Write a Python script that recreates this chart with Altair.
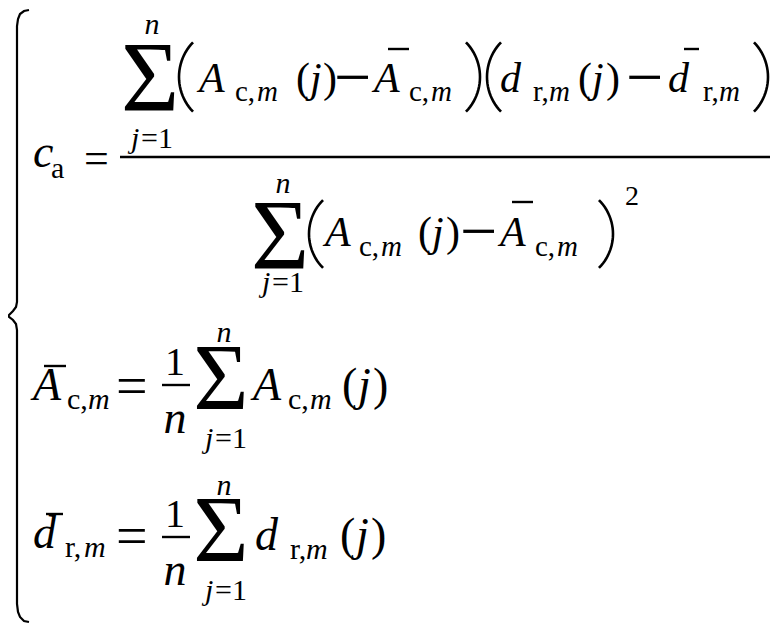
import altair as alt
import numpy as np
import pandas as pd

FONT = "Liberation Serif"

# ---- formula tokens (text), with their layout kept in separate lists ----
tok_text = [
    "c", "a", "=",
    "n", "Σ", "j", "=1", "A", "c,", "m", "(", "j", ")", "−", "A", "c,", "m",
    "d", "r,", "m", "(", "j", ")", "−", "d", "r,", "m",
    "n", "Σ", "j", "=1", "A", "c,", "m", "(", "j", ")", "−", "A", "c,", "m", "2",
    "A", "c,", "m", "=", "1", "n", "n", "Σ", "j", "=1", "A", "c,", "m", "(", "j", ")",
    "d", "r,", "m", "=", "1", "n", "n", "Σ", "j", "=1", "d", "r,", "m", "(", "j", ")",
]
tok_x = [
    33, 51, 84,
    152, 150, 131, 141, 199, 235, 257, 296, 310, 323, 334, 374, 409, 431,
    500, 533, 549, 578, 592, 606, 626, 668, 703, 719,
    283, 280, 262, 272, 325, 359, 381, 418, 432, 446, 460, 500, 535, 557, 625,
    33, 67, 88, 116, 175, 175, 224, 221, 205, 215, 253, 288, 310, 342, 358, 373,
    33, 65, 84, 116, 175, 175, 224, 221, 205, 215, 255, 290, 306, 340, 356, 371,
]
tok_y = [
    167, 178, 173,
    34, 110, 148, 148, 92, 101, 101, 92, 92, 92, 99, 92, 101, 101,
    92, 101, 101, 92, 92, 92, 99, 92, 101, 101,
    193, 268, 292, 292, 246, 256, 256, 246, 246, 246, 253, 246, 256, 256, 205,
    400, 409, 409, 405, 375, 433, 342, 410, 448, 448, 400, 409, 409, 400, 400, 400,
    548, 557, 557, 555, 527, 585, 495, 562, 600, 600, 550, 559, 559, 550, 550, 550,
]
tok_size = [
    46, 30, 44,
    30, 100, 30, 30, 42, 29, 29, 42, 42, 42, 66, 42, 29, 29,
    42, 29, 29, 42, 42, 42, 66, 42, 29, 29,
    30, 100, 30, 30, 42, 29, 29, 42, 42, 42, 66, 42, 29, 29, 28,
    46, 30, 30, 56, 40, 46, 30, 95, 30, 30, 46, 30, 30, 46, 46, 46,
    46, 30, 30, 56, 40, 46, 30, 95, 30, 30, 46, 30, 30, 46, 46, 46,
]
tok_italic = [
    1, 0, 0,
    1, 0, 1, 0, 1, 0, 1, 0, 1, 0, 0, 1, 0, 1,
    1, 0, 1, 0, 1, 0, 0, 1, 0, 1,
    1, 0, 1, 0, 1, 0, 1, 0, 1, 0, 0, 1, 0, 1, 0,
    1, 0, 1, 0, 0, 1, 1, 0, 1, 0, 1, 0, 1, 0, 1, 0,
    1, 0, 1, 0, 0, 1, 1, 0, 1, 0, 1, 0, 1, 0, 1, 0,
]
tok_center = [
    0, 0, 0,
    1, 1, 0, 0, 0, 0, 0, 0, 0, 0, 0, 0, 0, 0,
    0, 0, 0, 0, 0, 0, 0, 0, 0, 0,
    1, 1, 0, 0, 0, 0, 0, 0, 0, 0, 0, 0, 0, 0, 0,
    0, 0, 0, 0, 1, 1, 1, 1, 0, 0, 0, 0, 0, 0, 0, 0,
    0, 0, 0, 0, 1, 1, 1, 1, 0, 0, 0, 0, 0, 0, 0, 0,
]

# ---- horizontal bars: fraction lines and overbars ----
bar_x1 = [120, 162, 162, 388, 684, 512, 44, 46]
bar_x2 = [770, 190, 190, 409, 699, 533, 66, 63]
bar_y = [157, 385, 537, 49, 49, 202, 366, 514]

# ---- large parentheses: centre, radius, half-angle (deg), side (-1 = "(", +1 = ")") ----
par_cx = [229, 430, 537, 718, 357, 565]
par_cy = [77, 77, 77, 77, 234, 234]
par_r = [50, 50, 50, 50, 48, 48]
par_half = [44, 44, 44, 44, 45, 45]
par_side = [-1, 1, -1, 1, -1, 1]

# ---- left curly brace path ----
brace_x = [29, 24, 20, 18, 17, 17, 16, 13, 8, 13, 16, 17, 17, 18, 20, 24, 29]
brace_y = [10, 11, 14, 19, 26, 302, 307, 311, 316, 320, 324, 330, 604, 612, 617, 621, 622]

XS = alt.Scale(domain=[8, 776], nice=False, zero=False)
YS = alt.Scale(domain=[8, 624], nice=False, zero=False, reverse=True)

tokens = pd.DataFrame({
    "t": tok_text, "x": tok_x, "y": tok_y, "s": tok_size,
    "it": tok_italic, "ce": tok_center,
})

layers = []
for (s, it, ce), d in tokens.groupby(["s", "it", "ce"]):
    opts = dict(
        font=FONT,
        fontSize=int(s),
        align="center" if ce else "left",
        baseline="alphabetic",
    )
    if it:
        opts["fontStyle"] = "italic"
    layers.append(
        alt.Chart(d[["t", "x", "y"]]).mark_text(**opts).encode(
            x=alt.X("x:Q", scale=XS, axis=None),
            y=alt.Y("y:Q", scale=YS, axis=None),
            text="t:N",
        )
    )

bars = pd.DataFrame({"x": bar_x1, "x2": bar_x2, "y": bar_y})
layers.append(
    alt.Chart(bars).mark_rule(color="black", strokeWidth=2.4).encode(
        x=alt.X("x:Q", scale=XS, axis=None),
        x2="x2:Q",
        y=alt.Y("y:Q", scale=YS, axis=None),
    )
)

# big parentheses as arc-shaped strokes
rows = []
for k, (cx, cy, r, h, sd) in enumerate(zip(par_cx, par_cy, par_r, par_half, par_side)):
    ang = np.radians(np.linspace(-h, h, 25))
    for i, a in enumerate(ang):
        rows.append({"id": k, "o": i, "x": float(cx + sd * r * np.cos(a)), "y": float(cy + r * np.sin(a))})
parens = pd.DataFrame(rows)
layers.append(
    alt.Chart(parens).mark_line(color="black", strokeWidth=2.6).encode(
        x=alt.X("x:Q", scale=XS, axis=None),
        y=alt.Y("y:Q", scale=YS, axis=None),
        detail="id:N",
        order="o:Q",
    )
)

brace = pd.DataFrame({"x": brace_x, "y": brace_y, "o": list(range(len(brace_x)))})
layers.append(
    alt.Chart(brace).mark_line(color="black", strokeWidth=2.2).encode(
        x=alt.X("x:Q", scale=XS, axis=None),
        y=alt.Y("y:Q", scale=YS, axis=None),
        order="o:Q",
    )
)

chart = alt.layer(*layers).properties(
    width=768, height=616, padding=0, autosize="none", background="white"
).configure_view(stroke=None)

chart.save("out.html", embed_options={"renderer": "svg", "actions": False})
